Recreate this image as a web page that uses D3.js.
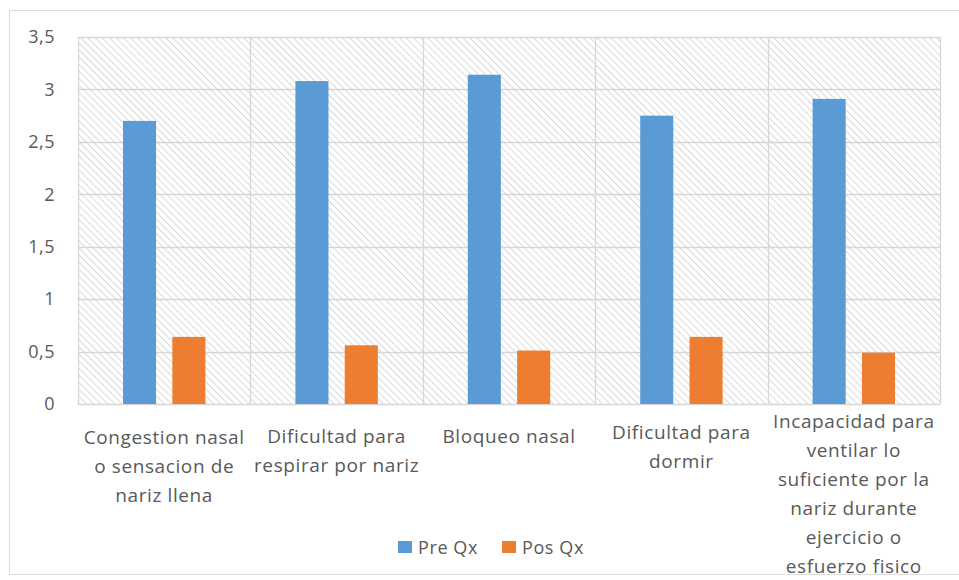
<!DOCTYPE html>
<html>
<head>
<meta charset="utf-8">
<script src="https://cdn.jsdelivr.net/npm/d3@7"></script>
<style>
  html, body { margin: 0; padding: 0; background: #fff; }
  svg { display: block; }
  text { font-family: "Open Sans", "DejaVu Sans", sans-serif; fill: #595959; }
</style>
</head>
<body>
<svg id="chart" width="959" height="580"></svg>
<script>
// Symptom categories (each entry split into the lines it is printed on)
const categories = [
  ["Congestion nasal", "o sensacion de", "nariz llena"],
  ["Dificultad para", "respirar por nariz"],
  ["Bloqueo nasal"],
  ["Dificultad para", "dormir"],
  ["Incapacidad para", "ventilar lo", "suficiente por la", "nariz durante", "ejercicio o", "esfuerzo fisico"]
];
const seriesNames = ["Pre Qx", "Pos Qx"];
const preQx = [2.70, 3.08, 3.14, 2.75, 2.91];
const posQx = [0.64, 0.56, 0.51, 0.64, 0.49];
const yTicks = [0, 0.5, 1, 1.5, 2, 2.5, 3, 3.5];
const colors = ["#5B9BD5", "#ED7D31"];

const svg = d3.select("#chart");
const W = 959, H = 580;
const plot = { left: 78, top: 37, right: 940, bottom: 404 };

// Outer chart frame
svg.append("rect")
  .attr("x", 9.5).attr("y", 10.5)
  .attr("width", W).attr("height", 564)
  .attr("fill", "#fff").attr("stroke", "#dcdcdc");

// Diagonal hatch fill for the plot area
const defs = svg.append("defs");
const pat = defs.append("pattern")
  .attr("id", "hatch")
  .attr("patternUnits", "userSpaceOnUse")
  .attr("width", 5).attr("height", 5)
  .attr("patternTransform", "rotate(-45)");
pat.append("line")
  .attr("x1", 0).attr("y1", 0).attr("x2", 0).attr("y2", 5)
  .attr("stroke", "#c9c9c9").attr("stroke-width", 1.4);

const catIdx = d3.range(categories.length);
const x = d3.scaleBand().domain(catIdx).range([plot.left, plot.right]).padding(0);
const y = d3.scaleLinear().domain([0, 3.5]).range([plot.bottom, plot.top]);
const bw = x.bandwidth();
const xs = d3.scaleBand().domain(seriesNames).range([45, bw - 45]).paddingInner(0.33);

svg.append("rect")
  .attr("x", plot.left).attr("y", plot.top)
  .attr("width", plot.right - plot.left).attr("height", plot.bottom - plot.top)
  .attr("fill", "url(#hatch)");

// Horizontal gridlines
svg.append("g")
  .selectAll("line").data(yTicks).join("line")
  .attr("x1", plot.left).attr("x2", plot.right)
  .attr("y1", d => Math.round(y(d)) + 0.5).attr("y2", d => Math.round(y(d)) + 0.5)
  .attr("stroke", "#d6d6d6").attr("stroke-width", 1.3);

// Vertical gridlines at category boundaries
svg.append("g")
  .selectAll("line").data(catIdx.concat([categories.length])).join("line")
  .attr("x1", d => Math.round(d < categories.length ? x(d) : plot.right) + 0.5)
  .attr("x2", d => Math.round(d < categories.length ? x(d) : plot.right) + 0.5)
  .attr("y1", plot.top).attr("y2", plot.bottom)
  .attr("stroke", "#d6d6d6").attr("stroke-width", 1.3);

// Y axis labels
const yAxis = d3.axisLeft(y).tickValues(yTicks)
  .tickFormat(d => String(d).replace(".", ","))
  .tickSize(0).tickPadding(0);
const yg = svg.append("g").attr("transform", `translate(55,0)`).call(yAxis);
yg.select(".domain").remove();
yg.selectAll("text")
  .style("font-family", "'Open Sans', sans-serif")
  .style("font-size", "18px").style("letter-spacing", "0.5px")
  .style("fill", "#595959");

// Bars
const seriesData = [preQx, posQx];
seriesData.forEach((vals, s) => {
  svg.append("g")
    .selectAll("rect").data(vals).join("rect")
    .attr("x", (d, i) => x(i) + xs(seriesNames[s]))
    .attr("width", xs.bandwidth())
    .attr("y", d => y(d))
    .attr("height", d => y(0) - y(d))
    .attr("fill", colors[s]);
});

// Category labels
const labelTop = [437, 436, 436, 432, 421];
const lineH = 29;
const lab = svg.append("g");
categories.forEach((lines, i) => {
  const t = lab.append("text")
    .attr("text-anchor", "middle")
    .style("font-size", "19px")
    .style("letter-spacing", "0.6px");
  lines.forEach((ln, j) => {
    t.append("tspan")
      .attr("x", x(i) + bw / 2)
      .attr("y", labelTop[i] + j * lineH + 7)
      .text(ln);
  });
});

// Legend
const legend = svg.append("g").attr("transform", "translate(398,541)");
const legX = [0, 104];
seriesNames.forEach((n, s) => {
  const g = legend.append("g").attr("transform", `translate(${legX[s]},0)`);
  g.append("rect").attr("width", 14).attr("height", 12).attr("fill", colors[s]);
  g.append("text").attr("x", 20).attr("y", 13)
    .style("font-size", "18px").style("letter-spacing", "0.6px").text(n);
});
</script>
</body>
</html>
